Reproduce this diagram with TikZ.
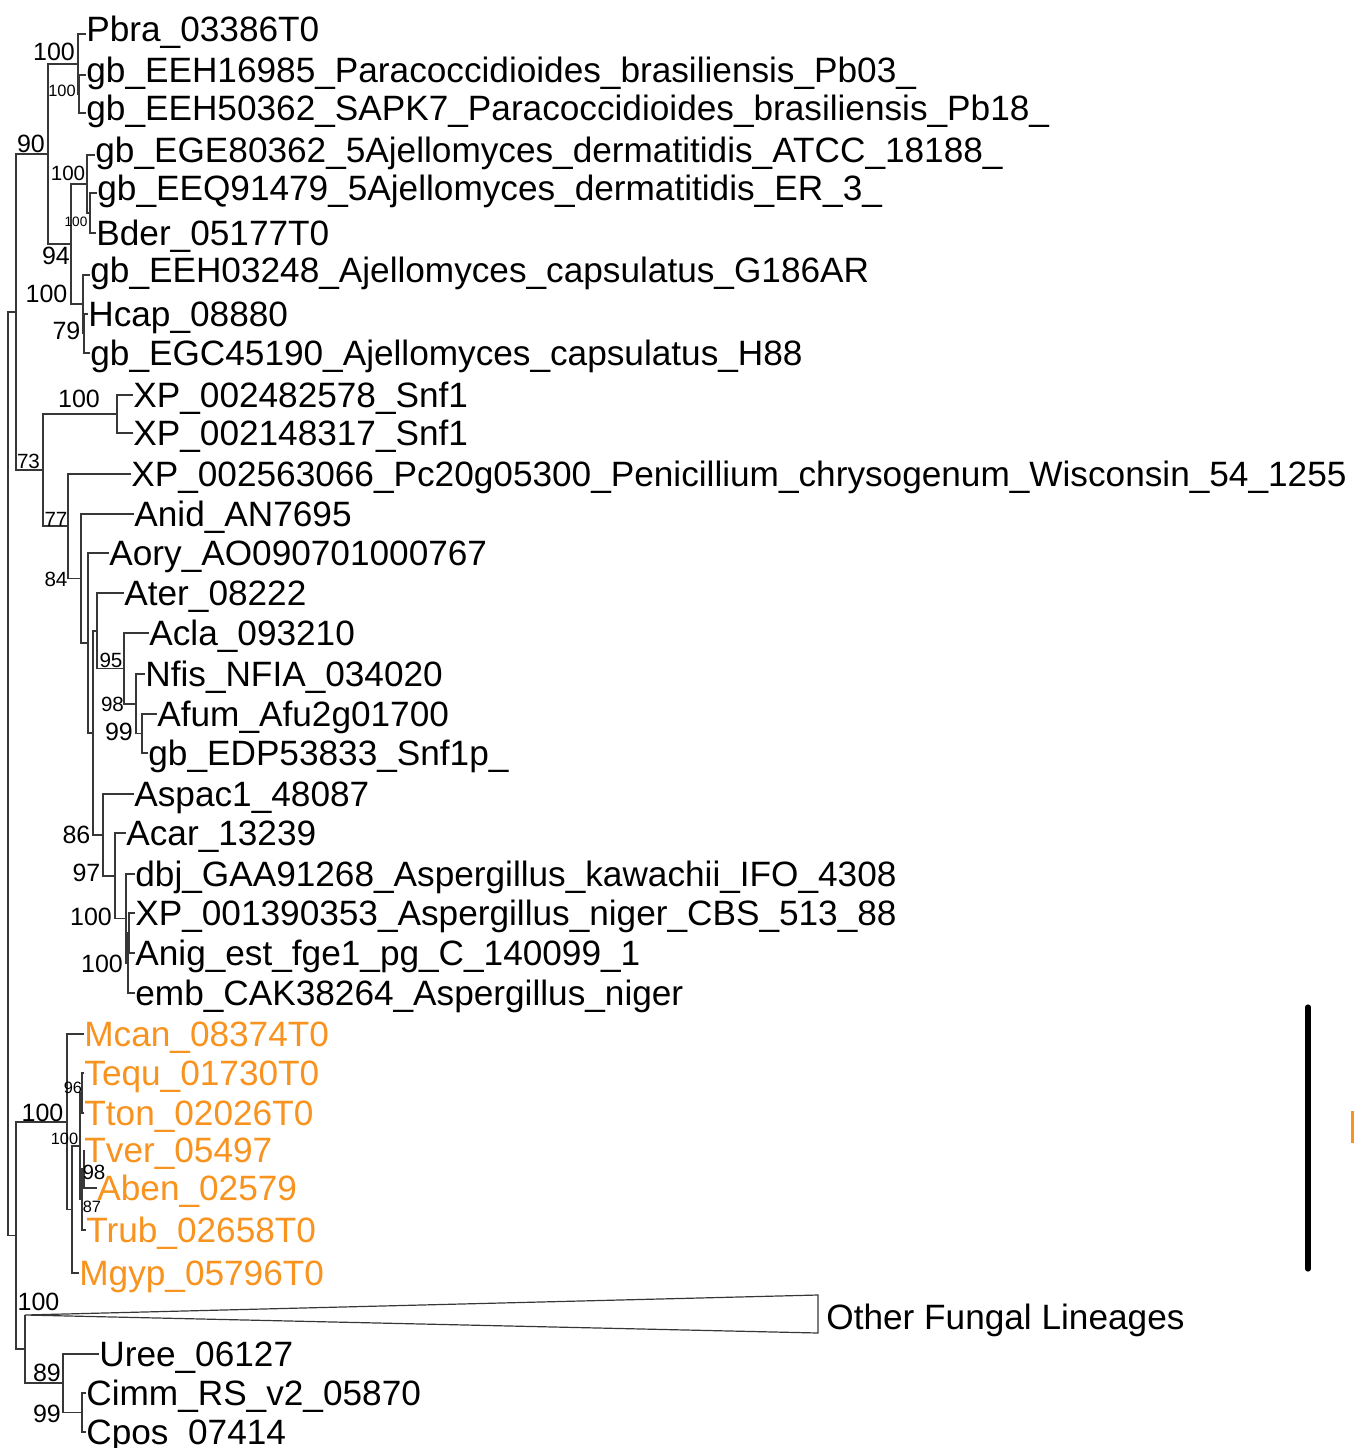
\documentclass[tikz,border=0pt]{standalone}
\usepackage{fontspec}
\setmainfont{Liberation Sans}
\usetikzlibrary{positioning}
\definecolor{onyorange}{RGB}{247,147,30}
\definecolor{branch}{RGB}{55,55,55}

\begin{document}
\begin{tikzpicture}[x=0.5pt, y=-0.5pt,
  br/.style={draw=branch, line width=0.6pt},
  tip/.style={anchor=west, inner sep=0pt, text height=12.6pt, text depth=0pt,
    font=\fontsize{17.6pt}{20pt}\selectfont},
  tiphi/.style={tip, text depth=5pt},
  ony/.style={tip, text=onyorange},
  bs/.style={inner sep=0pt, font=\fontsize{12.5pt}{14pt}\selectfont},
  bsmid/.style={inner sep=0pt, font=\fontsize{10.3pt}{12pt}\selectfont},
  bssmall/.style={inner sep=0pt, font=\fontsize{8.2pt}{10pt}\selectfont},
  bstiny/.style={inner sep=0pt, font=\fontsize{6.8pt}{8pt}\selectfont}]
  \useasboundingbox (0,0) rectangle (1354,1448);

  % tips: Paracoccidioides / Blastomyces / Histoplasma
  \node[tiphi] (pbra) at (86,34) {Pbra\_03386T0};
  \node[tiphi] (eeh16985) at (86,75) {gb\_EEH16985\_Paracoccidioides\_brasiliensis\_Pb03\_};
  \node[tiphi] (eeh50362) at (86,113) {gb\_EEH50362\_SAPK7\_Paracoccidioides\_brasiliensis\_Pb18\_};
  \node[tiphi] (ege80362) at (95,155) {gb\_EGE80362\_5Ajellomyces\_dermatitidis\_ATCC\_18188\_};
  \node[tiphi] (eeq91479) at (97,193) {gb\_EEQ91479\_5Ajellomyces\_dermatitidis\_ER\_3\_};
  \node[tip] (bder) at (96,233) {Bder\_05177T0};
  \node[tiphi] (eeh03248) at (90,275) {gb\_EEH03248\_Ajellomyces\_capsulatus\_G186AR};
  \node[tip] (hcap) at (88,314) {Hcap\_08880};
  \node[tip] (egc45190) at (90,353) {gb\_EGC45190\_Ajellomyces\_capsulatus\_H88};
  % tips: Penicillium / Aspergillus
  \node[tip] (snfa) at (133,395) {XP\_002482578\_Snf1};
  \node[tip] (snfb) at (133,433) {XP\_002148317\_Snf1};
  \node[tip] (pchr) at (131,474) {XP\_002563066\_Pc20g05300\_Penicillium\_chrysogenum\_Wisconsin\_54\_1255};
  \node[tip] (anid) at (134,514) {Anid\_AN7695};
  \node[tip] (aory) at (109,553) {Aory\_AO090701000767};
  \node[tip] (ater) at (124,593) {Ater\_08222};
  \node[tip] (acla) at (149,633) {Acla\_093210};
  \node[tip] (nfis) at (145,674) {Nfis\_NFIA\_034020};
  \node[tip] (afum) at (157,714) {Afum\_Afu2g01700};
  \node[tip] (edp) at (148,753) {gb\_EDP53833\_Snf1p\_};
  \node[tip] (aspac) at (134,794) {Aspac1\_48087};
  \node[tip] (acar) at (126,833) {Acar\_13239};
  \node[tip] (dbj) at (135,874) {dbj\_GAA91268\_Aspergillus\_kawachii\_IFO\_4308};
  \node[tip] (xpnig) at (135,913) {XP\_001390353\_Aspergillus\_niger\_CBS\_513\_88};
  \node[tip] (anig) at (135,953) {Anig\_est\_fge1\_pg\_C\_140099\_1};
  \node[tip] (emb) at (135,993) {emb\_CAK38264\_Aspergillus\_niger};
  % tips: dermatophytes (orange)
  \node[ony] (mcan) at (84,1034) {Mcan\_08374T0};
  \node[ony] (tequ) at (84,1073) {Tequ\_01730T0};
  \node[ony] (tton) at (84,1113) {Tton\_02026T0};
  \node[ony] (tver) at (84,1150) {Tver\_05497};
  \node[ony] (aben) at (97,1188) {Aben\_02579};
  \node[ony] (trub) at (86,1230) {Trub\_02658T0};
  \node[ony] (mgyp) at (79,1273) {Mgyp\_05796T0};
  % tips: outgroup
  \node[tip] (other) at (826,1317) {Other Fungal Lineages};
  \node[tip] (uree) at (99,1354) {Uree\_06127};
  \node[tip] (cimm) at (86,1393) {Cimm\_RS\_v2\_05870};
  \node[tip] (cpos) at (86,1432) {Cpos\_07414};

  % internal nodes
  \coordinate (root) at (8,774);
  \coordinate (nI) at (16,312);
  \coordinate (nC) at (48,154);
  \coordinate (nA) at (78,64);
  \coordinate (nB) at (79,94);
  \coordinate (nD) at (71,244);
  \coordinate (nF) at (87,184);
  \coordinate (nG) at (90,213);
  \coordinate (nE) at (83,304);
  \coordinate (nH) at (84,333.5);
  \coordinate (nJ) at (43,470);
  \coordinate (nK) at (117,414);
  \coordinate (nL) at (68,526);
  \coordinate (nM) at (81,578.5);
  \coordinate (nN) at (88,643);
  \coordinate (nO) at (93,733);
  \coordinate (nP) at (97,631);
  \coordinate (nR) at (124,668.5);
  \coordinate (nS) at (136,704);
  \coordinate (nT) at (142,733.5);
  \coordinate (nQ) at (103,835);
  \coordinate (nU) at (115,876);
  \coordinate (nV) at (126,918.5);
  \coordinate (nW) at (128,963);
  \coordinate (nWa) at (129,933);
  \coordinate (nX) at (16,1235.5);
  \coordinate (nY) at (67,1122);
  \coordinate (nZ) at (72,1209.5);
  \coordinate (nZa) at (80,1146);
  \coordinate (nTT) at (82,1093);
  \coordinate (nZb) at (82,1199.5);
  \coordinate (nZc) at (84,1169);
  \coordinate (nAA) at (25,1349);
  \coordinate (ofl) at (25,1315);
  \coordinate (oflTop) at (818,1295);
  \coordinate (oflBot) at (818,1333);
  \coordinate (nBB) at (63,1383);
  \coordinate (nCC) at (82,1412.5);

  % branches
  \draw[br] (root) |- (nI) (root) |- (nX);
  \draw[br] (nI) |- (nC) (nI) |- (nJ);
  \draw[br] (nC) |- (nA) (nC) |- (nD);
  \draw[br] (nA) |- (pbra.west) (nA) |- (nB);
  \draw[br] (nB) |- (eeh16985.west) (nB) |- (eeh50362.west);
  \draw[br] (nD) |- (nF) (nD) |- (nE);
  \draw[br] (nF) |- (ege80362.west) (nF) |- (nG);
  \draw[br] (nG) |- (eeq91479.west) (nG) |- (bder.west);
  \draw[br] (nE) |- (eeh03248.west) (nE) |- (nH);
  \draw[br] (nH) |- (hcap.west) (nH) |- (egc45190.west);
  \draw[br] (nJ) |- (nK) (nJ) |- (nL);
  \draw[br] (nK) |- (snfa.west) (nK) |- (snfb.west);
  \draw[br] (nL) |- (pchr.west) (nL) |- (nM);
  \draw[br] (nM) |- (anid.west) (nM) |- (nN);
  \draw[br] (nN) |- (aory.west) (nN) |- (nO);
  \draw[br] (nO) |- (nP) (nO) |- (nQ);
  \draw[br] (nP) |- (ater.west) (nP) |- (nR);
  \draw[br] (nR) |- (acla.west) (nR) |- (nS);
  \draw[br] (nS) |- (nfis.west) (nS) |- (nT);
  \draw[br] (nT) |- (afum.west) (nT) |- (edp.west);
  \draw[br] (nQ) |- (aspac.west) (nQ) |- (nU);
  \draw[br] (nU) |- (acar.west) (nU) |- (nV);
  \draw[br] (nV) |- (dbj.west) (nV) |- (nW);
  \draw[br] (nW) |- (nWa) (nW) |- (emb.west);
  \draw[br] (nWa) |- (xpnig.west) (nWa) |- (anig.west);
  \draw[br] (nX) |- (nY) (nX) |- (nAA);
  \draw[br] (nY) |- (mcan.west) (nY) |- (nZ);
  \draw[br] (nZ) |- (nZa) (nZ) |- (mgyp.west);
  \draw[br] (nZa) |- (nTT) (nZa) |- (nZb);
  \draw[br] (nTT) |- (tequ.west) (nTT) |- (tton.west);
  \draw[br] (nZb) |- (nZc) (nZb) |- (trub.west);
  \draw[br] (nZc) |- (tver.west) (nZc) |- (aben.west);
  \draw[br] (nAA) |- (ofl) (nAA) |- (nBB);
  \draw[br] (ofl) -- (oflTop) -- (oflBot) -- cycle;
  \draw[br] (nBB) |- (uree.west) (nBB) |- (nCC);
  \draw[br] (nCC) |- (cimm.west) (nCC) |- (cpos.west);

  % bootstrap values
  \node[bs] (bsA) at (54,52) {100};
  \node[bssmall] (bsB) at (62,91) {100};
  \node[bs] (bsC) at (31,144) {90};
  \node[bsmid] (bsF) at (68,173) {100};
  \node[bstiny] (bsG) at (76,222) {100};
  \node[bs] (bsD) at (56,256) {94};
  \node[bs] (bsE) at (46.5,294) {100};
  \node[bs] (bsH) at (66.5,331) {79};
  \node[bs] (bsK) at (79,399) {100};
  \node[bsmid] (bsI) at (28.5,461) {73};
  \node[bsmid] (bsJ) at (56,519) {77};
  \node[bsmid] (bsL) at (56,579) {84};
  \node[bsmid] (bsP) at (111,660) {95};
  \node[bsmid] (bsR) at (112.5,704) {98};
  \node[bs] (bsS) at (119,732) {99};
  \node[bs] (bsO) at (76.5,835) {86};
  \node[bs] (bsQ) at (86.5,873) {97};
  \node[bs] (bsU) at (91,917) {100};
  \node[bs] (bsW) at (102,964) {100};
  \node[bssmall] (bsTT) at (73,1088) {96};
  \node[bs] (bsY) at (42.5,1113) {100};
  \node[bssmall] (bsZa) at (64.5,1139) {100};
  \node[bsmid] (bsZc) at (94,1172) {98};
  \node[bssmall] (bsZb) at (92,1207) {87};
  \node[bs] (bsAA) at (38.5,1302) {100};
  \node[bs] (bsBB) at (47,1373) {89};
  \node[bs] (bsCC) at (47,1414) {99};

  % clade bar
  \coordinate (barTop) at (1308,1007);
  \coordinate (barBot) at (1308,1269);
  \draw[line width=2.6pt, line cap=round] (barTop) -- (barBot);
  \fill[onyorange] (1351,1111) rectangle (1354,1143);
\end{tikzpicture}
\end{document}
